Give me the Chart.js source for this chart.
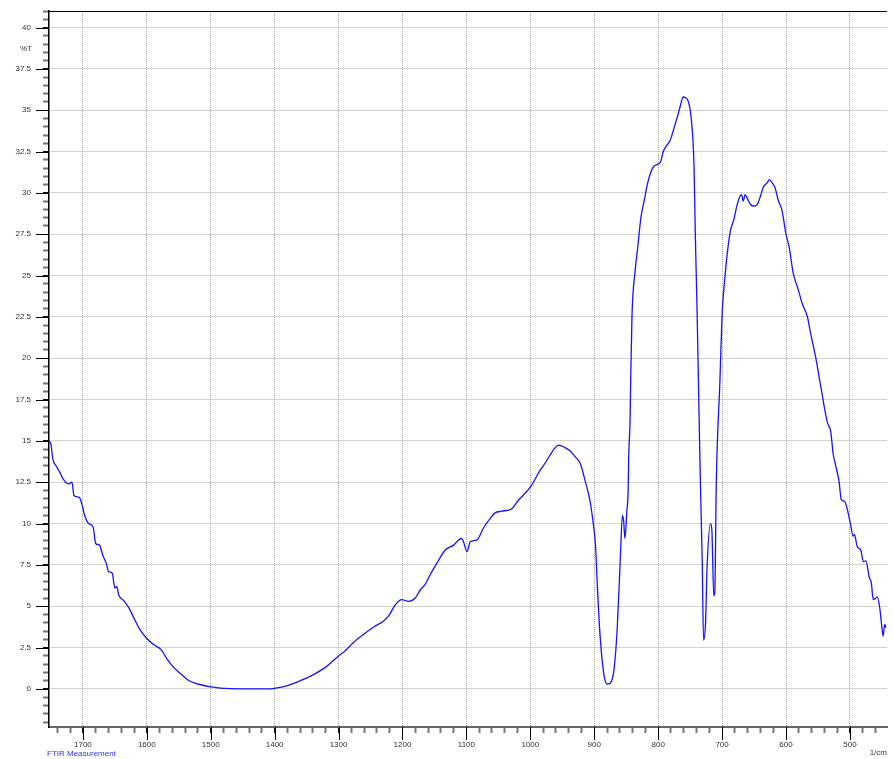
<!DOCTYPE html>
<html>
<head>
<meta charset="utf-8">
<script src="https://cdn.jsdelivr.net/npm/chart.js@4/dist/chart.umd.min.js"></script>
<style>
    body { margin: 0; background: #fff; }
    .wrap { position: relative; width: 893px; height: 759px; }
    .note { position: absolute; font: 8px "Liberation Sans", Arial, sans-serif; color: #333; white-space: nowrap; }
</style>
</head>
<body>
<div class="wrap">
    <canvas id="ftir" width="893" height="759"></canvas>
    <div class="note" style="left:20px; top:44px;">%T</div>
    <div class="note" style="left:47px; top:749px; color:#3333ff;">FTIR Measurement</div>
    <div class="note" style="right:6px; top:748px;">1/cm</div>
</div>
<script>
// wavenumber (1/cm) left to right
const wavenumbers = [
    1753, 1750, 1747, 1742, 1736, 1731, 1722, 1717, 1714, 1706, 1701, 1698, 1691, 1684, 1680, 1674,
    1669, 1663, 1660, 1654, 1650, 1647, 1644, 1635, 1628, 1619, 1611, 1601, 1590, 1577, 1569, 1559,
    1548, 1540, 1533, 1525, 1517, 1500, 1485, 1470, 1440, 1407, 1392, 1380, 1366, 1340, 1319, 1300, 1290, 1277,
    1261, 1245, 1230, 1222, 1211, 1201, 1191, 1180, 1172, 1165, 1154, 1144, 1133, 1120, 1108, 1105,
    1099, 1094, 1084, 1073, 1066, 1055, 1045, 1029, 1019, 1000, 985, 977, 969, 962, 956, 951,
    946, 938, 930, 922, 914, 907, 902, 898, 895, 891, 885, 880, 875, 869, 864, 859,
    856, 854, 852, 849, 847, 846, 844, 843, 841, 836, 832, 827, 821, 817, 812, 807,
    800, 796, 792, 786, 781, 775, 770, 766, 761, 757, 753, 749, 744, 742, 739, 737,
    734, 731, 729, 726, 723.5, 718, 716, 713, 711.5, 709, 703.4, 700, 696, 692, 687, 681.5,
    677, 672, 669.5, 667, 664, 661, 655.5, 650, 645, 640, 635.5, 629.5, 626, 621.5, 617, 612.5,
    606, 600.5, 595, 588.5, 582, 574.5, 566.5, 561.5, 553.5, 547, 535.5, 530, 526, 522.5, 517, 513.5,
    508.4, 504, 499, 495, 493, 488.5, 483, 479, 475, 470, 466.5, 463.5, 457, 453, 450.5, 448,
    445.7, 443.6
];

// transmittance (%T)
const transmittance = [
    15.0, 14.8, 13.9, 13.5, 13.1, 12.7, 12.4, 12.5, 11.7, 11.6, 11.1, 10.6, 10.0, 9.8, 8.8, 8.7,
    8.1, 7.55, 7.1, 7.0, 6.1, 6.2, 5.7, 5.3, 4.9, 4.2, 3.6, 3.1, 2.7, 2.35, 1.85, 1.35,
    0.95, 0.68, 0.48, 0.36, 0.27, 0.12, 0.05, 0.02, 0.0, 0.0, 0.1, 0.2, 0.4, 0.85, 1.35, 2.0, 2.3, 2.8,
    3.3, 3.75, 4.1, 4.4, 5.1, 5.4, 5.3, 5.5, 6.0, 6.3, 7.1, 7.75, 8.4, 8.7, 9.1, 8.95,
    8.3, 8.9, 9.0, 9.75, 10.15, 10.65, 10.75, 10.9, 11.4, 12.2, 13.2, 13.65, 14.15, 14.55, 14.75, 14.7,
    14.6, 14.4, 14.05, 13.65, 12.55, 11.45, 10.15, 8.65, 6.1, 3.3, 0.9, 0.3, 0.35, 1.2, 3.7, 8.1,
    10.5, 10.15, 9.1, 10.75, 11.95, 14.15, 16.2, 18.6, 22.5, 25.3, 26.7, 28.5, 29.7, 30.5, 31.2, 31.6,
    31.75, 31.9, 32.5, 32.9, 33.2, 33.95, 34.6, 35.15, 35.8, 35.75, 35.55, 34.75, 31.75, 27.7, 22.65, 18.6,
    12.6, 7.55, 2.95, 3.9, 7.35, 10.0, 9.6, 5.65, 5.75, 12.6, 18.6, 22.65, 24.7, 26.3, 27.7, 28.4,
    29.2, 29.8, 29.9, 29.5, 29.9, 29.7, 29.3, 29.2, 29.3, 29.8, 30.35, 30.6, 30.8, 30.6, 30.3, 29.6,
    28.9, 27.6, 26.7, 25.1, 24.3, 23.3, 22.5, 21.5, 20.05, 18.6, 16.15, 15.55, 14.15, 13.55, 12.55, 11.45,
    11.35, 10.85, 9.95, 9.25, 9.35, 8.6, 8.4, 7.7, 7.75, 6.8, 6.4, 5.4, 5.55, 4.8, 3.9, 3.2,
    3.9, 3.7
];

// axis ticks: labelled majors and unlabelled minors
const xMajorStep = 100, xMinorStep = 20;
const xTickValues = [];
for (let v = 460; v <= 1740; v += xMinorStep) xTickValues.push(v);

const yMajorStep = 2.5, yMinorStep = 0.5;
const yTickValues = [];
for (let v = -2; v <= 41.001; v += yMinorStep) yTickValues.push(Math.round(v * 10) / 10);

const isMajor = (v, step) => Math.abs(v / step - Math.round(v / step)) < 1e-6;

const FONT = { family: '"Liberation Sans", Arial, sans-serif', size: 8 };
const GRID_COLOR = '#a8a8a8';

// top frame line and the longer major ticks
const frameTicks = {
    id: 'frameTicks',
    afterDraw(chart) {
        const { ctx, chartArea: a, scales: { x, y } } = chart;
        ctx.save();
        ctx.strokeStyle = '#000';
        ctx.lineWidth = 1;
        ctx.beginPath();
        ctx.moveTo(a.left, a.top + 0.5);
        ctx.lineTo(a.right, a.top + 0.5);
        xTickValues.filter(v => isMajor(v, xMajorStep)).forEach(v => {
            const px = Math.round(x.getPixelForValue(v)) + 0.5;
            ctx.moveTo(px, a.bottom);
            ctx.lineTo(px, a.bottom + 13);
        });
        yTickValues.filter(v => isMajor(v, yMajorStep)).forEach(v => {
            const py = Math.round(y.getPixelForValue(v)) + 0.5;
            ctx.moveTo(a.left - 13, py);
            ctx.lineTo(a.left, py);
        });
        ctx.stroke();
        ctx.restore();
    }
};

new Chart(document.getElementById('ftir').getContext('2d'), {
    type: 'line',
    data: {
        datasets: [{
            data: wavenumbers.map((w, i) => ({ x: w, y: transmittance[i] })),
            borderColor: '#1414ff',
            borderWidth: 1.3,
            pointRadius: 0,
            cubicInterpolationMode: 'monotone',
            fill: false,
        }],
    },
    options: {
        responsive: false,
        devicePixelRatio: 1,
        animation: false,
        layout: { padding: { top: 11, right: 6, left: 0, bottom: 0 } },
        plugins: { legend: { display: false }, tooltip: { enabled: false } },
        scales: {
            x: {
                type: 'linear',
                reverse: true,
                min: 442,
                max: 1753,
                afterFit: s => { s.height = 32; s.paddingLeft = 0; s.paddingRight = 0; },
                afterBuildTicks: s => { s.ticks = xTickValues.map(v => ({ value: v })); },
                ticks: {
                    autoSkip: false,
                    maxRotation: 0,
                    padding: 7,
                    color: '#333',
                    font: FONT,
                    callback: v => isMajor(v, xMajorStep) ? String(v) : '',
                },
                grid: {
                    tickLength: 6,
                    color: c => c.tick && isMajor(c.tick.value, xMajorStep) ? GRID_COLOR : 'rgba(0,0,0,0)',
                    lineWidth: 1,
                    tickColor: c => c.tick && isMajor(c.tick.value, xMajorStep) ? '#000' : '#777',
                    tickWidth: c => c.tick && isMajor(c.tick.value, xMajorStep) ? 1 : 2,
                },
                border: { color: '#666', width: 2, dash: [1, 1] },
            },
            y: {
                min: -2.3,
                max: 41,
                afterFit: s => { s.width = 49; s.paddingTop = 0; s.paddingBottom = 0; },
                afterBuildTicks: s => { s.ticks = yTickValues.map(v => ({ value: v })); },
                ticks: {
                    autoSkip: false,
                    padding: 12,
                    color: '#333',
                    font: FONT,
                    callback: v => isMajor(v, yMajorStep) ? String(v) : '',
                },
                grid: {
                    tickLength: 6,
                    color: c => c.tick && isMajor(c.tick.value, yMajorStep) && c.tick.value >= 0 ? GRID_COLOR : 'rgba(0,0,0,0)',
                    lineWidth: 1,
                    tickColor: c => c.tick && isMajor(c.tick.value, yMajorStep) ? '#000' : '#777',
                    tickWidth: c => c.tick && isMajor(c.tick.value, yMajorStep) ? 1 : 2,
                },
                border: { color: '#000', width: 1.5, dash: [1, 1] },
            },
        },
    },
    plugins: [frameTicks],
});
</script>
</body>
</html>
